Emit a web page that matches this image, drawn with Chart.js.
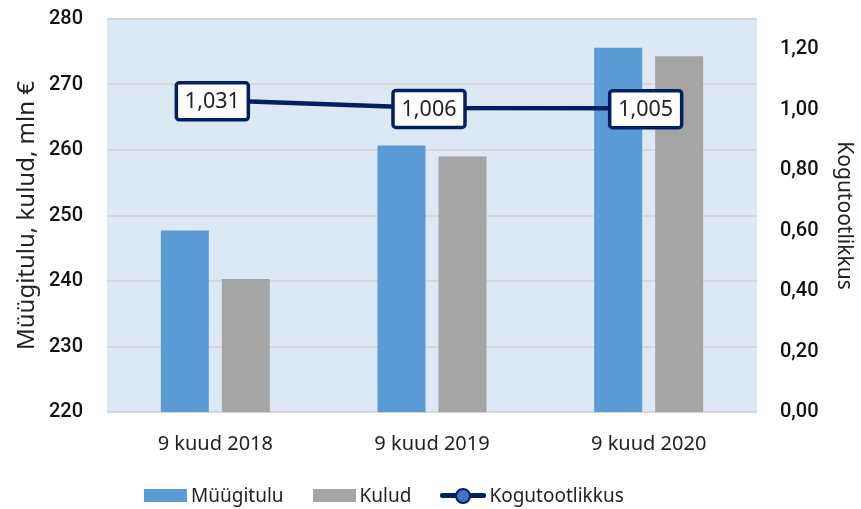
<!DOCTYPE html>
<html>
<head>
<meta charset="utf-8">
<script src="https://cdn.jsdelivr.net/npm/chart.js@4"></script>
<style>
  html, body { margin: 0; padding: 0; background: #ffffff; }
  #wrap { position: relative; width: 861px; height: 509px; }
  #legend { position: absolute; left: 144px; top: 482px; display: flex; align-items: center;
            font-family: 'Noto Sans', sans-serif; font-size: 19px; color: #222; white-space: nowrap; }
  .item { display: flex; align-items: center; margin-right: 29px; }
  .sw { width: 43px; height: 13px; margin-right: 4px; }
  .ln { position: relative; width: 46px; height: 13px; margin-right: 3px; }
  .ln .bar { position: absolute; left: 0; right: 0; top: 4px; height: 5px; background: #002060; border-radius: 2px; }
  .ln .dot { position: absolute; left: 15px; top: -1px; width: 12px; height: 12px; border-radius: 50%;
             background: #4472c4; border: 2px solid #002060; }
</style>
</head>
<body>
<div id="wrap">
  <canvas id="c" width="861" height="509"></canvas>
  <div id="legend"></div>
</div>
<script>
const categories = ['9 kuud 2018', '9 kuud 2019', '9 kuud 2020'];
const salesRevenue = [247.7, 260.7, 275.6];
const expenses = [240.3, 259.0, 274.3];
const productivity = [1.031, 1.006, 1.005];
const seriesNames = ['Müügitulu', 'Kulud', 'Kogutootlikkus'];
const leftAxisTitle = 'Müügitulu, kulud, mln €';
const rightAxisTitle = 'Kogutootlikkus';

const tickFont = { family: 'Roboto', size: 20, weight: '500' };
const leftTitleFont = { family: "'Noto Sans', sans-serif", size: 24 };
const rightTitleFont = { family: "'Noto Sans', sans-serif", size: 21 };
const catFont = { family: "'Noto Sans', sans-serif", size: 20 };
const fmt = (v, d) => v.toFixed(d).replace('.', ',');

const bgPlugin = {
  id: 'plotBg',
  beforeDraw(chart) {
    const a = chart.chartArea, ctx = chart.ctx;
    ctx.save();
    ctx.fillStyle = '#dde8f5';
    ctx.fillRect(a.left, a.top, a.right - a.left, a.bottom - a.top);
    ctx.restore();
  }
};

const labelPlugin = {
  id: 'boxLabels',
  afterDatasetsDraw(chart) {
    const ctx = chart.ctx;
    const meta = chart.getDatasetMeta(2);
    ctx.save();
    ctx.font = "21.5px 'Noto Sans', sans-serif";
    ctx.textAlign = 'center';
    ctx.textBaseline = 'middle';
    meta.data.forEach((pt, i) => {
      const w = 72, h = 37;
      const x = pt.x - 3, y = pt.y + 1;
      ctx.fillStyle = '#ffffff';
      ctx.strokeStyle = '#002060';
      ctx.lineWidth = 3.5;
      ctx.beginPath();
      ctx.roundRect(x - w / 2, y - h / 2, w, h, 3);
      ctx.fill();
      ctx.stroke();
      ctx.fillStyle = '#222';
      ctx.fillText(fmt(productivity[i], 3), x, y + 1);
    });
    ctx.restore();
  }
};

new Chart(document.getElementById('c'), {
  type: 'bar',
  data: {
    labels: categories,
    datasets: [
      { label: seriesNames[0], data: salesRevenue, backgroundColor: '#5b9bd5', yAxisID: 'y',
        categoryPercentage: 0.563, barPercentage: 0.787, order: 2 },
      { label: seriesNames[1], data: expenses, backgroundColor: '#a5a5a5', yAxisID: 'y',
        categoryPercentage: 0.563, barPercentage: 0.787, order: 2 },
      { type: 'line', label: seriesNames[2], data: productivity, borderColor: '#002060',
        backgroundColor: '#4472c4', borderWidth: 4.5, pointRadius: 0, yAxisID: 'y2', order: 1 }
    ]
  },
  options: {
    responsive: false,
    animation: false,
    layout: { padding: { top: 19, left: 0, right: 0, bottom: 0 } },
    plugins: { legend: { display: false }, tooltip: { enabled: false } },
    scales: {
      x: {
        grid: { display: false },
        border: { display: false },
        ticks: { font: catFont, color: '#222', padding: 12 },
        afterFit(s) { s.height = 97; s.paddingLeft = 0; s.paddingRight = 0; }
      },
      y: {
        position: 'left', min: 220, max: 280,
        ticks: { stepSize: 10, font: tickFont, color: '#111', padding: 24 },
        grid: { color: '#d6d6d6', lineWidth: 2, drawTicks: false },
        border: { display: false },
        title: { display: true, text: leftAxisTitle, font: leftTitleFont, color: '#222', padding: { top: 13, bottom: 0 } },
        afterFit(s) { s.width = 107; s.paddingTop = 0; s.paddingBottom = 0; }
      },
      y2: {
        position: 'right', min: 0, max: 1.3,
        ticks: { stepSize: 0.2, font: tickFont, color: '#111', padding: 23,
                 callback: (v) => fmt(v, 2) },
        afterBuildTicks(s) { s.ticks = s.ticks.filter(t => t.value <= 1.2000001); },
        grid: { display: false, drawTicks: false },
        border: { display: false },
        title: { display: true, text: rightAxisTitle, font: rightTitleFont, color: '#222', padding: { top: 4, bottom: 0 } },
        afterFit(s) { s.width = 104; s.paddingTop = 0; s.paddingBottom = 0; }
      }
    }
  },
  plugins: [bgPlugin, labelPlugin]
});

const lg = document.getElementById('legend');
lg.innerHTML =
  '<div class="item"><div class="sw" style="background:#5b9bd5"></div><span>' + seriesNames[0] + '</span></div>' +
  '<div class="item"><div class="sw" style="background:#a5a5a5"></div><span>' + seriesNames[1] + '</span></div>' +
  '<div class="item"><div class="ln"><div class="bar"></div><div class="dot"></div></div><span>' + seriesNames[2] + '</span></div>';
</script>
</body>
</html>
